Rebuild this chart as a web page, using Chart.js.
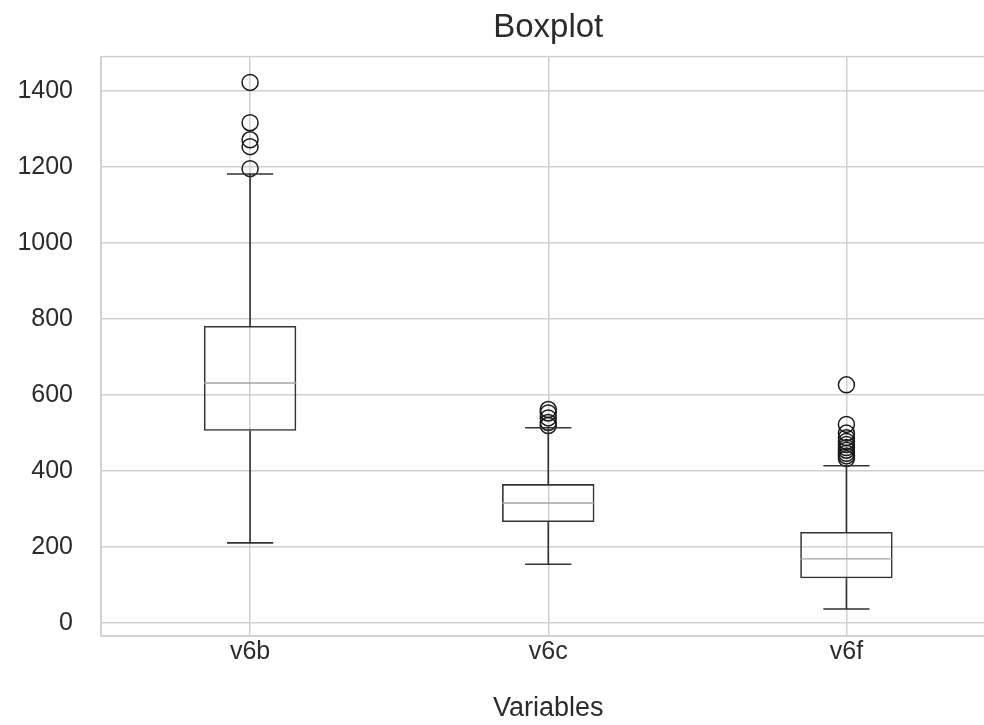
<!DOCTYPE html>
<html>
<head>
<meta charset="utf-8">
<script src="https://cdn.jsdelivr.net/npm/chart.js@4.4.0/dist/chart.umd.min.js"></script>
<style>
  html, body { margin: 0; padding: 0; background: #fff; overflow: hidden; }
  #wrap { width: 1005px; height: 725px; }
</style>
</head>
<body>
<div id="wrap"><canvas id="chart"></canvas></div>
<script>
const categories = ["v6b", "v6c", "v6f"];
const q1 = [506, 266, 118];
const medians = [632, 316, 169];
const q3 = [782, 366, 240];
const whiskerLow = [211, 155, 37];
const whiskerHigh = [1182, 514, 414];
const outliersV6b = [1423, 1317, 1272, 1254, 1196];
const outliersV6c = [520, 528, 540, 553, 562];
const outliersV6f = [627, 523, 500, 488, 478, 470, 462, 455, 447, 440, 433];
const yTicks = [0, 200, 400, 600, 800, 1000, 1200, 1400];

const textColor = "#2b2b2b";
const gridColor = "#cfcfcf";
const lineColor = "#333333";
const fontFamily = "Liberation Sans, Arial, sans-serif";

const outlierPoints = [];
[outliersV6b, outliersV6c, outliersV6f].forEach((list, i) => {
  list.forEach(v => outlierPoints.push({ x: categories[i], y: v }));
});

// whiskers, caps and medians, placed with the chart's own scales
const whiskerPlugin = {
  id: "whiskers",
  afterDatasetsDraw(chart) {
    const ctx = chart.ctx;
    const y = chart.scales.y;
    const bars = chart.getDatasetMeta(0).data;
    ctx.save();
    bars.forEach((bar, i) => {
      const cx = bar.x;
      const half = bar.width / 2;
      const capHalf = half / 2;
      ctx.strokeStyle = lineColor;
      ctx.lineWidth = 1.6;
      ctx.beginPath();
      ctx.moveTo(cx, y.getPixelForValue(q3[i]));
      ctx.lineTo(cx, y.getPixelForValue(whiskerHigh[i]));
      ctx.moveTo(cx, y.getPixelForValue(q1[i]));
      ctx.lineTo(cx, y.getPixelForValue(whiskerLow[i]));
      ctx.moveTo(cx - capHalf, y.getPixelForValue(whiskerHigh[i]));
      ctx.lineTo(cx + capHalf, y.getPixelForValue(whiskerHigh[i]));
      ctx.moveTo(cx - capHalf, y.getPixelForValue(whiskerLow[i]));
      ctx.lineTo(cx + capHalf, y.getPixelForValue(whiskerLow[i]));
      ctx.stroke();
      ctx.strokeStyle = "#a3a3a3";
      ctx.lineWidth = 1.4;
      ctx.beginPath();
      ctx.moveTo(cx - half, y.getPixelForValue(medians[i]));
      ctx.lineTo(cx + half, y.getPixelForValue(medians[i]));
      ctx.stroke();
    });
    ctx.restore();
  }
};

// frame round the plot area
const framePlugin = {
  id: "frame",
  beforeDatasetsDraw(chart) {
    const a = chart.chartArea;
    const ctx = chart.ctx;
    ctx.save();
    ctx.strokeStyle = gridColor;
    ctx.lineWidth = 1.5;
    ctx.strokeRect(a.left, a.top, a.right - a.left, a.bottom - a.top);
    ctx.restore();
  }
};

new Chart(document.getElementById("chart"), {
  type: "bar",
  data: {
    labels: categories,
    datasets: [
      {
        label: "box",
        data: q1.map((v, i) => [v, q3[i]]),
        backgroundColor: "rgba(0,0,0,0)",
        borderColor: lineColor,
        borderWidth: 1.6,
        borderSkipped: false,
        barPercentage: 0.31,
        categoryPercentage: 1
      },
      {
        type: "scatter",
        label: "outliers",
        data: outlierPoints,
        pointStyle: "circle",
        pointRadius: 8,
        pointBorderWidth: 1.5,
        pointBorderColor: "#1a1a1a",
        pointBackgroundColor: "rgba(0,0,0,0)"
      }
    ]
  },
  options: {
    responsive: true,
    maintainAspectRatio: false,
    animation: false,
    layout: { padding: { left: 0, right: 3, top: 0, bottom: 0 } },
    plugins: {
      legend: { display: false },
      tooltip: { enabled: false },
      title: {
        display: true,
        text: "Boxplot",
        fullSize: false,
        color: textColor,
        font: { family: fontFamily, size: 33, weight: "normal" },
        padding: { top: 8, bottom: 9 }
      }
    },
    scales: {
      x: {
        type: "category",
        offset: true,
        grid: { offset: false, color: gridColor, lineWidth: 1.5, drawTicks: false },
        border: { color: gridColor, width: 1.5 },
        ticks: {
          color: textColor,
          padding: 1,
          font: { family: fontFamily, size: 25 }
        },
        title: {
          display: true,
          text: "Variables",
          color: textColor,
          font: { family: fontFamily, size: 27 },
          padding: { top: 0, bottom: 0 }
        },
        afterFit(scale) { scale.height = 89; }
      },
      y: {
        min: -34,
        max: 1491,
        afterBuildTicks(axis) { axis.ticks = yTicks.map(v => ({ value: v })); },
        grid: { color: gridColor, lineWidth: 1.5, drawTicks: false },
        border: { color: gridColor, width: 1.5 },
        ticks: {
          color: textColor,
          padding: 28,
          font: { family: fontFamily, size: 25 },
          callback: v => String(v)
        },
        afterFit(scale) { scale.width = 101; }
      }
    }
  },
  plugins: [framePlugin, whiskerPlugin]
});
</script>
</body>
</html>
